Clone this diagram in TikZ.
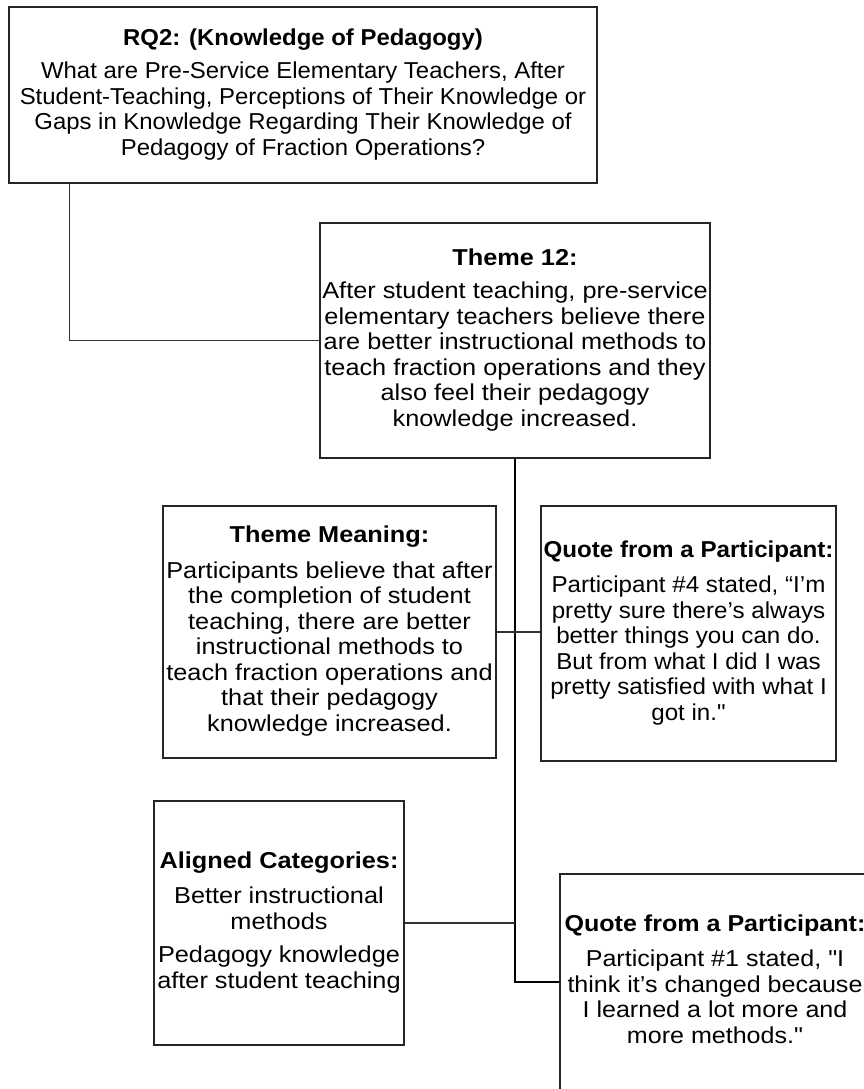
\documentclass[tikz,border=0pt]{standalone}
\usepackage{fontspec}
\usepackage{graphicx}
\setmainfont{Liberation Sans}[Ligatures=TeXOff]

% centred block of lines, widened to fill its box
\newcommand{\blockx}[2]{\scalebox{#1}[1]{\begin{tabular}{@{}c@{}}#2\end{tabular}}}

\tikzset{
  card/.style={draw=black!85, line width=1.2pt, rectangle, inner sep=0pt,
               fill=white, font=\fontsize{23}{25.5}\selectfont},
  link/.style={draw=black!80, line width=1.3pt},
  trunk/.style={draw=black, line width=1.6pt},
}

\begin{document}
\begin{tikzpicture}[x=1pt,y=-1pt]
\useasboundingbox (0,0) rectangle (864,1089);
\clip (0,0) rectangle (864,1089);
\fill[white] (0,0) rectangle (864,1089);

% research question
\node[card, minimum width=588pt, minimum height=176pt] (rq) at (303,95)
  {\blockx{1.04}{\textbf{RQ2: (Knowledge of Pedagogy)}\\[8pt]
   What are Pre-Service Elementary Teachers, After\\
   Student-Teaching, Perceptions of Their Knowledge or\\
   Gaps in Knowledge Regarding Their Knowledge of\\
   Pedagogy of Fraction Operations?}};

% theme
\node[card, minimum width=390pt, minimum height=235pt] (t12) at (515,340.5)
  {\blockx{1.10}{\textbf{Theme 12:}\\[8pt]
   After student teaching, pre-service\\
   elementary teachers believe there\\
   are better instructional methods to\\
   teach fraction operations and they\\
   also feel their pedagogy\\
   knowledge increased.}};

% meaning of the theme
\node[card, minimum width=333pt, minimum height=252pt] (mean) at (329.5,632)
  {\blockx{1.10}{\textbf{Theme Meaning:}\\[10pt]
   Participants believe that after\\
   the completion of student\\
   teaching, there are better\\
   instructional methods to\\
   teach fraction operations and\\
   that their pedagogy\\
   knowledge increased.}};

% first quote
\node[card, minimum width=295pt, minimum height=255pt] (q1) at (688.5,633.5)
  {\blockx{1.05}{\textbf{Quote from a Participant:}\\[10pt]
   Participant \#4 stated, “I’m\\
   pretty sure there’s always\\
   better things you can do.\\
   But from what I did I was\\
   pretty satisfied with what I\\
   got in."}};

% categories
\node[card, minimum width=250pt, minimum height=244pt] (alig) at (279,923)
  {\blockx{1.10}{\textbf{Aligned Categories:}\\[10pt]
   Better instructional\\
   methods\\[8pt]
   Pedagogy knowledge\\
   after student teaching}};

% second quote
\node[card, minimum width=310pt, minimum height=216pt] (q2) at (715,982)
  {\blockx{1.09}{\textbf{Quote from a Participant:}\\[10pt]
   Participant \#1 stated, "I\\
   think it’s changed because\\
   I learned a lot more and\\
   more methods."}};

% connectors
\draw[link] (rq.south west) ++(61,0) |- (t12.west);
\draw[trunk] (t12.south) |- (q2.west);
\draw[link] (mean.east) -- (mean.east -| q1.west);
\draw[link] (alig.east) -- (alig.east -| t12.south);
\end{tikzpicture}
\end{document}
